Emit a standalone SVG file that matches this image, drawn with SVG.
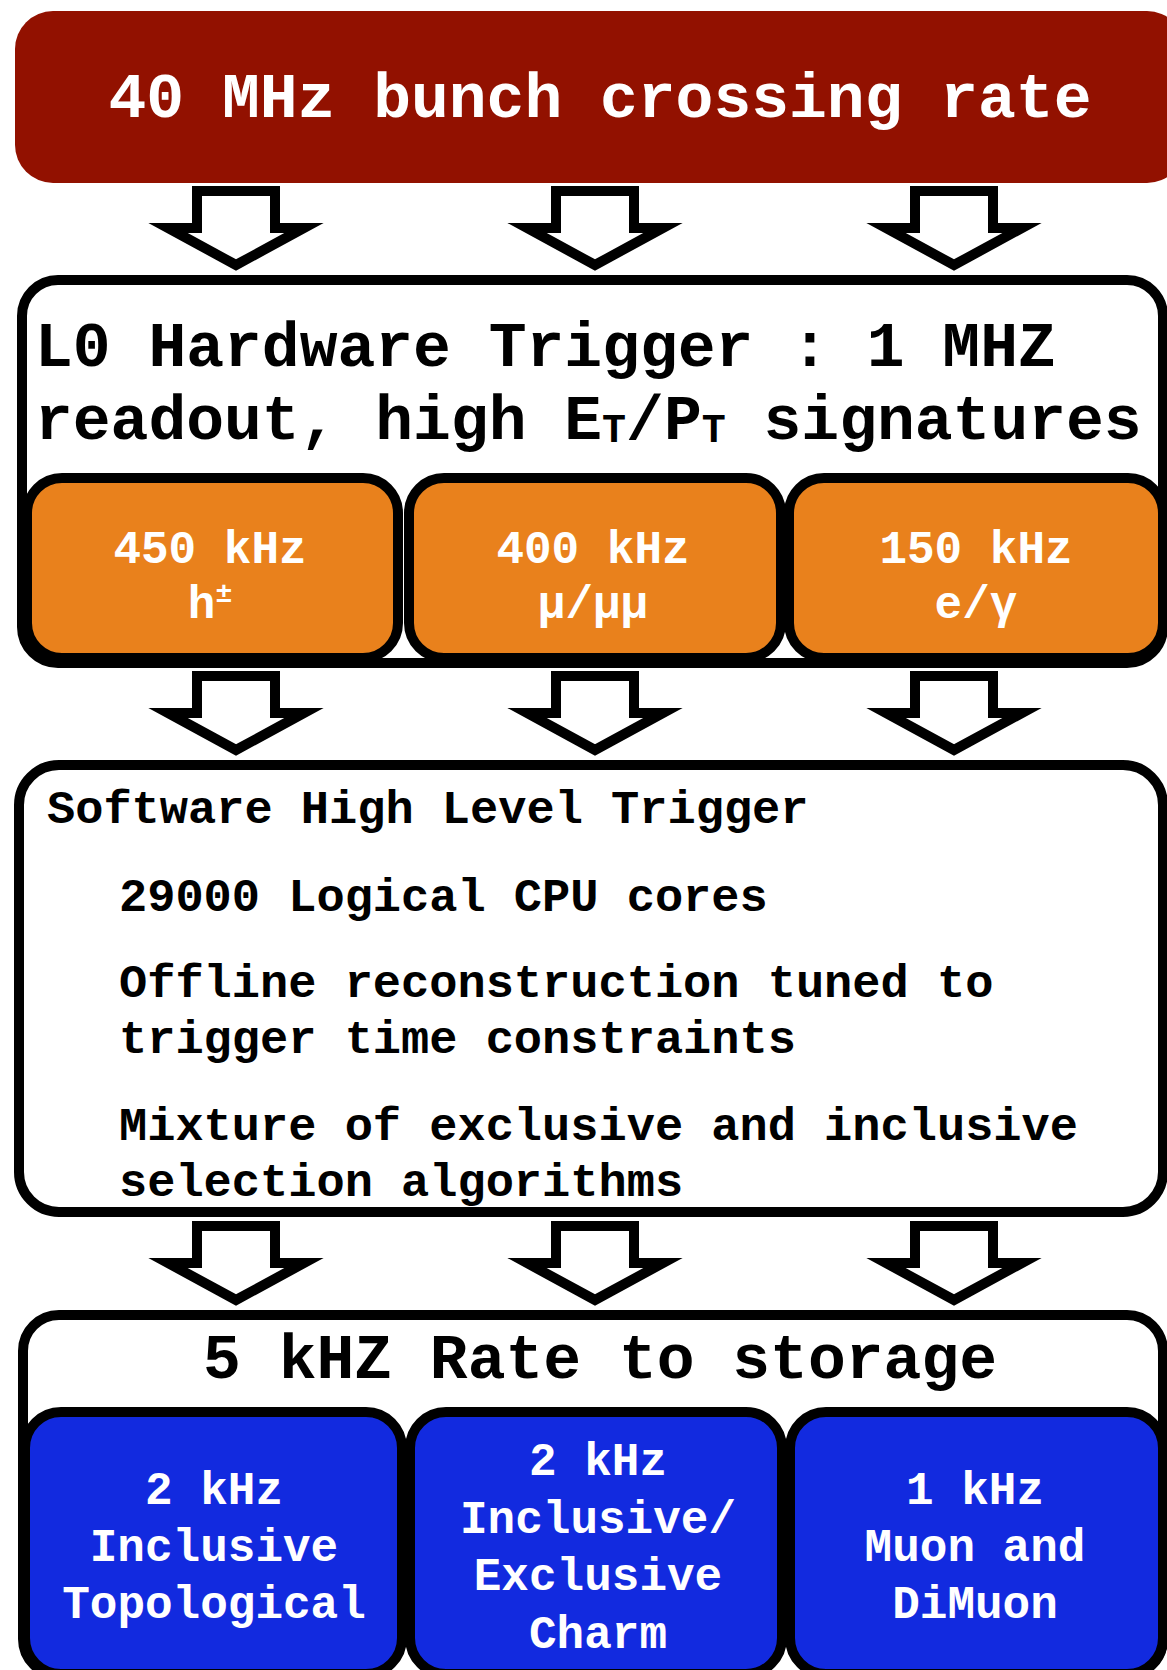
<svg xmlns="http://www.w3.org/2000/svg" xmlns:xlink="http://www.w3.org/1999/xlink" width="1167" height="1670" viewBox="0 0 1167 1670">
  <style>
    text { font-family: "Liberation Mono", "Courier New", monospace; font-weight: bold; }
    .outline { fill: #ffffff; stroke: #000000; stroke-width: 10; }
    .orange { fill: #E9811C; stroke: #000000; stroke-width: 10; }
    .blue { fill: #122ADF; stroke: #000000; stroke-width: 10; }
    .big { font-size: 63px; fill: #000000; }
    .hlt { font-size: 47px; fill: #000000; }
    .inner { font-size: 46px; fill: #ffffff; text-anchor: middle; }
    .arrow { fill: #ffffff; stroke: #000000; stroke-width: 10; stroke-linejoin: miter; stroke-miterlimit: 6; }
  </style>
  <defs>
    <!-- hollow block arrow pointing down, origin at top centre of the shaft -->
    <path id="blockArrow" class="arrow" d="M-39,0 H39 V37 H68 L0,74 L-68,37 H-39 Z"/>
  </defs>

  <rect width="1167" height="1670" fill="#ffffff"/>

  <!-- 40 MHz input -->
  <g id="bunch-crossing">
    <rect x="15" y="11" width="1170" height="172" rx="38" ry="38" fill="#921100"/>
    <text x="600" y="117" font-size="63" fill="#ffffff" text-anchor="middle">40 MHz bunch crossing rate</text>
  </g>

  <!-- L0 hardware trigger -->
  <g id="l0-trigger">
    <rect class="outline" x="22" y="280" width="1141" height="383" rx="36" ry="36"/>
    <text class="big" x="35" y="366">L0 Hardware Trigger : 1 MHZ</text>
    <text class="big" x="35" y="439">readout, high E<tspan font-size="40" dy="3">T</tspan><tspan dy="-3">/P</tspan><tspan font-size="40" dy="3">T</tspan><tspan dy="-3"> signatures</tspan></text>
  </g>
  <g id="l0-hadron">
    <rect class="orange" x="27" y="478" width="371" height="180" rx="35" ry="35"/>
    <text class="inner" x="210" y="563">450 kHz</text>
    <text class="inner" x="210" y="618">h<tspan font-size="28" dy="-16">±</tspan></text>
  </g>
  <g id="l0-muon">
    <rect class="orange" x="409" y="478" width="372" height="180" rx="35" ry="35"/>
    <text class="inner" x="593" y="563">400 kHz</text>
    <text class="inner" x="593" y="618">μ/μμ</text>
  </g>
  <g id="l0-electron">
    <rect class="orange" x="789" y="478" width="374" height="180" rx="35" ry="35"/>
    <text class="inner" x="976" y="563">150 kHz</text>
    <text class="inner" x="976" y="618">e/γ</text>
  </g>

  <!-- software high level trigger -->
  <g id="hlt">
    <rect class="outline" x="19" y="765" width="1144" height="447" rx="40" ry="40"/>
    <text class="hlt" x="47" y="823">Software High Level Trigger</text>
    <text class="hlt" x="119" y="911">29000 Logical CPU cores</text>
    <text class="hlt" x="119" y="997">Offline reconstruction tuned to</text>
    <text class="hlt" x="119" y="1053">trigger time constraints</text>
    <text class="hlt" x="119" y="1140">Mixture of exclusive and inclusive</text>
    <text class="hlt" x="119" y="1196">selection algorithms</text>
  </g>

  <!-- output to storage -->
  <g id="storage">
    <rect class="outline" x="23" y="1315" width="1140" height="360" rx="36" ry="36"/>
    <text class="big" x="600" y="1378" text-anchor="middle">5 kHZ Rate to storage</text>
  </g>
  <g id="storage-topological">
    <rect class="blue" x="25" y="1412" width="377" height="262" rx="36" ry="36"/>
    <text class="inner" x="214" y="1504">2 kHz</text>
    <text class="inner" x="214" y="1561">Inclusive</text>
    <text class="inner" x="214" y="1618">Topological</text>
  </g>
  <g id="storage-charm">
    <rect class="blue" x="410" y="1412" width="372" height="262" rx="36" ry="36"/>
    <text class="inner" x="598" y="1475">2 kHz</text>
    <text class="inner" x="598" y="1533">Inclusive/</text>
    <text class="inner" x="598" y="1590">Exclusive</text>
    <text class="inner" x="598" y="1648">Charm</text>
  </g>
  <g id="storage-muon">
    <rect class="blue" x="790" y="1412" width="373" height="262" rx="36" ry="36"/>
    <text class="inner" x="975" y="1504">1 kHz</text>
    <text class="inner" x="975" y="1561">Muon and</text>
    <text class="inner" x="975" y="1618">DiMuon</text>
  </g>

  <!-- flow arrows between the stages -->
  <g id="connectors">
    <use xlink:href="#blockArrow" x="236" y="191"/>
    <use xlink:href="#blockArrow" x="595" y="191"/>
    <use xlink:href="#blockArrow" x="954" y="191"/>
    <use xlink:href="#blockArrow" x="236" y="676"/>
    <use xlink:href="#blockArrow" x="595" y="676"/>
    <use xlink:href="#blockArrow" x="954" y="676"/>
    <use xlink:href="#blockArrow" x="236" y="1226"/>
    <use xlink:href="#blockArrow" x="595" y="1226"/>
    <use xlink:href="#blockArrow" x="954" y="1226"/>
  </g>
</svg>
